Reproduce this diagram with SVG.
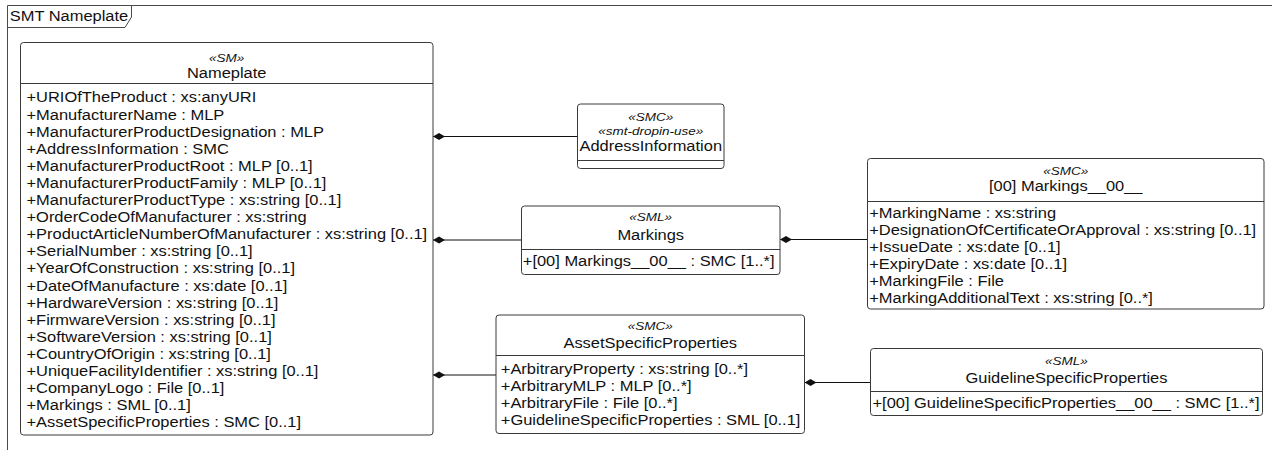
<svg xmlns="http://www.w3.org/2000/svg" width="1272" height="450" viewBox="0 0 1272 450">
<style>
.bg{fill:#ffffff}
.box{fill:#ffffff;stroke:#3a3a3a;stroke-width:1}
.sep{stroke:#3a3a3a;stroke-width:1;fill:none}
.frame{fill:none;stroke:#4a4a4a;stroke-width:1}
.t{font-family:"Liberation Sans",Arial,Helvetica,sans-serif;font-size:14px;fill:#111}
.st{font-family:"Liberation Sans",Arial,Helvetica,sans-serif;font-size:11.5px;font-style:italic;fill:#111}
.c{text-anchor:middle}
.conn{stroke:#111;stroke-width:1;fill:none;marker-start:url(#diamond)}
</style>
<defs>
<marker id="diamond" markerUnits="userSpaceOnUse" markerWidth="13" markerHeight="8" viewBox="0 0 13 8" refX="0" refY="4" orient="auto">
<polygon points="0,4 6,0.5 12,4 6,7.5" fill="#111"/>
</marker>
</defs>
<rect class="bg" x="0" y="0" width="1272" height="450"/>
<g id="frame">
<path class="frame" d="M7.5,450 V5.5 H1272"/>
<path class="frame" d="M7.5,27.5 H125 L131.5,17 V5.5"/>
<g transform="scale(1.175 1)"><text class="t" x="8.3" y="21.5">SMT Nameplate</text></g>
</g>
<g id="connectors">
<path class="conn" d="M433,136.5 H577.5"/>
<path class="conn" d="M433,240 H521.5"/>
<path class="conn" d="M433,375 H496"/>
<path class="conn" d="M780,239.5 H867.5"/>
<path class="conn" d="M804.5,382.5 H870.5"/>
</g>
<g id="nameplate">
<rect class="box" x="20.5" y="42.5" width="412.5" height="392.5" rx="3"/>
<path class="sep" d="M20.5,83.5 H433"/>
<g transform="scale(1.175 1)">
<text class="st c" x="192.94" y="62">«SM»</text>
<text class="t c" x="192.94" y="78">Nameplate</text>
<text class="t" x="22.55" y="102.5">+URIOfTheProduct : xs:anyURI</text>
<text class="t" x="22.55" y="119.6">+ManufacturerName : MLP</text>
<text class="t" x="22.55" y="136.7">+ManufacturerProductDesignation : MLP</text>
<text class="t" x="22.55" y="153.8">+AddressInformation : SMC</text>
<text class="t" x="22.55" y="170.9">+ManufacturerProductRoot : MLP [0..1]</text>
<text class="t" x="22.55" y="188">+ManufacturerProductFamily : MLP [0..1]</text>
<text class="t" x="22.55" y="205.1">+ManufacturerProductType : xs:string [0..1]</text>
<text class="t" x="22.55" y="222.2">+OrderCodeOfManufacturer : xs:string</text>
<text class="t" x="22.55" y="239.3">+ProductArticleNumberOfManufacturer : xs:string [0..1]</text>
<text class="t" x="22.55" y="256.4">+SerialNumber : xs:string [0..1]</text>
<text class="t" x="22.55" y="273.5">+YearOfConstruction : xs:string [0..1]</text>
<text class="t" x="22.55" y="290.6">+DateOfManufacture : xs:date [0..1]</text>
<text class="t" x="22.55" y="307.7">+HardwareVersion : xs:string [0..1]</text>
<text class="t" x="22.55" y="324.8">+FirmwareVersion : xs:string [0..1]</text>
<text class="t" x="22.55" y="341.9">+SoftwareVersion : xs:string [0..1]</text>
<text class="t" x="22.55" y="359">+CountryOfOrigin : xs:string [0..1]</text>
<text class="t" x="22.55" y="376.1">+UniqueFacilityIdentifier : xs:string [0..1]</text>
<text class="t" x="22.55" y="393.2">+CompanyLogo : File [0..1]</text>
<text class="t" x="22.55" y="410.3">+Markings : SML [0..1]</text>
<text class="t" x="22.55" y="427.4">+AssetSpecificProperties : SMC [0..1]</text>
</g>
</g>
<g id="addressinformation">
<rect class="box" x="577.5" y="104" width="146.5" height="64.5" rx="3"/>
<path class="sep" d="M577.5,160.5 H724"/>
<g transform="scale(1.175 1)">
<text class="st c" x="553.83" y="121.5">«SMC»</text>
<text class="st c" x="553.83" y="135">«smt-dropin-use»</text>
<text class="t c" x="553.83" y="151.5">AddressInformation</text>
</g>
</g>
<g id="markings">
<rect class="box" x="521.5" y="206" width="258.5" height="68.5" rx="3"/>
<path class="sep" d="M521.5,249.5 H780"/>
<g transform="scale(1.175 1)">
<text class="st c" x="553.83" y="221.5">«SML»</text>
<text class="t c" x="553.83" y="240">Markings</text>
<text class="t" x="444.94" y="266.5">+[00] Markings__00__ : SMC [1..*]</text>
</g>
</g>
<g id="markings00">
<rect class="box" x="867.5" y="158.5" width="396.5" height="150.5" rx="3"/>
<path class="sep" d="M867.5,201.5 H1264"/>
<g transform="scale(1.175 1)">
<text class="st c" x="907.02" y="175.5">«SMC»</text>
<text class="t c" x="907.02" y="191">[00] Markings__00__</text>
<text class="t" x="739.74" y="218.5">+MarkingName : xs:string</text>
<text class="t" x="739.74" y="235.5">+DesignationOfCertificateOrApproval : xs:string [0..1]</text>
<text class="t" x="739.74" y="252.5">+IssueDate : xs:date [0..1]</text>
<text class="t" x="739.74" y="269.5">+ExpiryDate : xs:date [0..1]</text>
<text class="t" x="739.74" y="286.5">+MarkingFile : File</text>
<text class="t" x="739.74" y="303.5">+MarkingAdditionalText : xs:string [0..*]</text>
</g>
</g>
<g id="assetspecificproperties">
<rect class="box" x="496" y="315" width="308.5" height="118.5" rx="3"/>
<path class="sep" d="M496,355.5 H804.5"/>
<g transform="scale(1.175 1)">
<text class="st c" x="553.4" y="330.5">«SMC»</text>
<text class="t c" x="553.4" y="348.3">AssetSpecificProperties</text>
<text class="t" x="426.21" y="374.5">+ArbitraryProperty : xs:string [0..*]</text>
<text class="t" x="426.21" y="391.5">+ArbitraryMLP : MLP [0..*]</text>
<text class="t" x="426.21" y="408.5">+ArbitraryFile : File [0..*]</text>
<text class="t" x="426.21" y="425.5">+GuidelineSpecificProperties : SML [0..1]</text>
</g>
</g>
<g id="guidelinespecificproperties">
<rect class="box" x="870.5" y="348.5" width="392" height="67" rx="3"/>
<path class="sep" d="M870.5,391.5 H1262.5"/>
<g transform="scale(1.175 1)">
<text class="st c" x="907.66" y="365.5">«SML»</text>
<text class="t c" x="907.66" y="383">GuidelineSpecificProperties</text>
<text class="t" x="742.55" y="408">+[00] GuidelineSpecificProperties__00__ : SMC [1..*]</text>
</g>
</g>
</svg>
